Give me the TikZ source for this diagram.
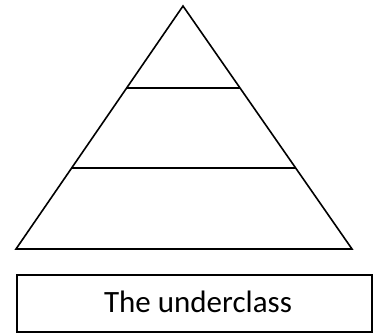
\documentclass[tikz,border=0pt]{standalone}
\usepackage{fontspec}
\setmainfont{Carlito}
\usetikzlibrary{calc}
\begin{document}
\begin{tikzpicture}[x=1pt,y=-1pt,line width=1.6pt,line join=miter]
        \useasboundingbox (0,0) rectangle (375,335);
        % Pyramid corners
        \coordinate (top) at (183,6);
        \coordinate (left) at (16,249);
        \coordinate (right) at (352,249);
        \draw (left) -- (top) -- (right) -- cycle;
        % Layer dividers
        \coordinate (upL) at ($(top)!0.3374!(left)$);
        \coordinate (upR) at ($(top)!0.3374!(right)$);
        \coordinate (midL) at ($(top)!0.6667!(left)$);
        \coordinate (midR) at ($(top)!0.6667!(right)$);
        \draw (upL) -- (upR);
        \draw (midL) -- (midR);
        % Label box
        \draw (17,275) rectangle (372,332);
        \node (under) at (198,302) [font=\fontsize{31}{36}\selectfont] {The underclass};
\end{tikzpicture}
\end{document}
